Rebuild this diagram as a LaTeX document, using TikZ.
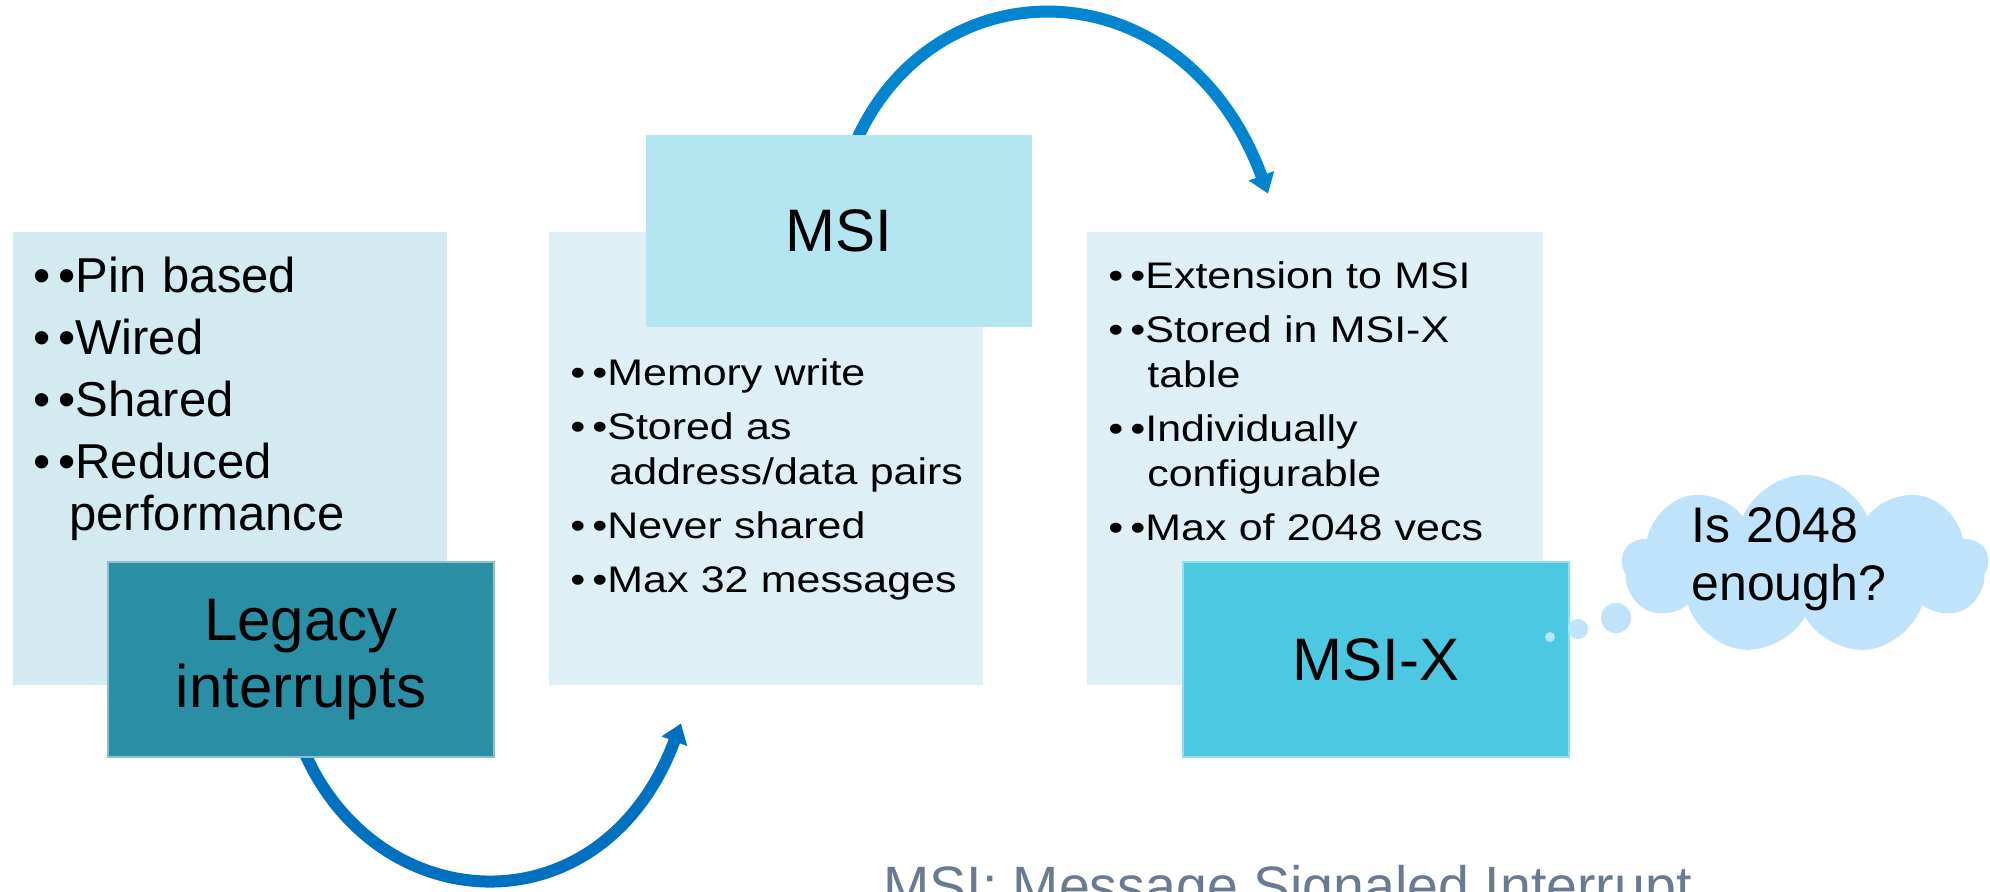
\documentclass[tikz,border=0pt]{standalone}
\usepackage{fontspec}
\setmainfont{Liberation Sans}
\newfontfamily\widesans[FakeStretch=1.16]{Liberation Sans}
\usetikzlibrary{arrows.meta,calc,shapes.symbols,backgrounds}

\definecolor{paleA}{HTML}{D3EBF0}
\definecolor{paleB}{HTML}{DEEFF5}
\definecolor{legacyteal}{HTML}{2A8FA5}
\definecolor{msiblue}{HTML}{B4E6F1}
\definecolor{msixcyan}{HTML}{4CC8E2}
\definecolor{cloudblue}{HTML}{BEE3FA}
\definecolor{arrowlow}{HTML}{0070C0}
\definecolor{arrowhigh}{HTML}{0284CF}
\definecolor{captiongray}{HTML}{6A7A90}

% one list entry: #1 distance between the two bullets, #2 hanging indent,
% #3 space before the next entry, #4 text
\newcommand\bulitem[4]{\hangindent=#2\hangafter=1\parskip=#3\relax
  \makebox[#1][l]{•}•#4\par}
\newcommand\bigitem[1]{\bulitem{12.5pt}{18pt}{5pt}{#1}}
\newcommand\smallitem[1]{\bulitem{11pt}{19.5pt}{4.5pt}{#1}}

\tikzset{
  panel/.style={rectangle, inner sep=0pt, draw=none},
  tag/.style={rectangle, inner sep=0pt, minimum width=193pt, minimum height=97.5pt,
    align=center, font=\fontsize{30pt}{33.5pt}\selectfont},
  biglist/.style={anchor=base west, inner sep=0pt, text width=240pt,
    font=\fontsize{24.5pt}{26pt}\selectfont},
  smalllist/.style={anchor=base west, inner sep=0pt, text width=260pt,
    font=\widesans\fontsize{18.5pt}{22.5pt}\selectfont},
  flow/.style={line width=6pt, -{Triangle[width=13pt,length=9.5pt]}},
  puff/.style={circle, fill=cloudblue, inner sep=0pt, draw=none},
}

\begin{document}
\begin{tikzpicture}[x=0.5pt, y=-0.5pt]
\useasboundingbox (0,0) rectangle (1990,891);
\clip (0,0) rectangle (1990,891);

% light panels holding the bullet lists
\node[panel, fill=paleA, minimum width=217pt, minimum height=226.5pt] (leftbg) at (230,458.5) {};
\node[panel, fill=paleB, minimum width=217pt, minimum height=226.5pt] (midbg) at (766,458.5) {};
\node[panel, fill=paleB, minimum width=228pt, minimum height=226.5pt] (rightbg) at (1315,458.5) {};

% bullet lists
\node[biglist] (leftlist) at (33,292) {\bigitem{Pin based}%
  \bigitem{Wired}%
  \bigitem{Shared}%
  \bigitem{Reduced\newline performance}};
\node[smalllist] (midlist) at (570,385) {\smallitem{Memory write}%
  \smallitem{Stored as\newline address/data pairs}%
  \smallitem{Never shared}%
  \smallitem{Max 32 messages}};
\node[smalllist] (rightlist) at (1108,288) {\smallitem{Extension to MSI}%
  \smallitem{Stored in MSI-X\newline table}%
  \smallitem{Individually\newline configurable}%
  \smallitem{Max of 2048 vecs}};

% title boxes
\node[tag, fill=legacyteal, draw=legacyteal!55!white, line width=0.6pt] (legacy) at (301,659.5) {Legacy\\interrupts};
\node[tag, fill=msiblue, minimum height=96pt] (msi) at (839,231) {MSI};
\node[tag, fill=msixcyan, draw=msixcyan!60!white, line width=0.6pt] (msix) at (1376,659.5) {MSI-X};

% thought cloud
\node[cloud, cloud puffs=9, cloud puff arc=135, cloud ignores aspect, fill=cloudblue,
  inner sep=0pt, minimum width=183pt, minimum height=90pt] (cloud) at (1805,565) {};
\node[puff, minimum size=5pt] (p1) at (1550,637) {};
\node[puff, minimum size=10pt] (p2) at (1578,629) {};
\node[puff, minimum size=15pt] (p3) at (1616,618) {};
\node[anchor=base west, inner sep=0pt, text width=150pt,
  font=\fontsize{25pt}{29pt}\selectfont] (question) at (1691,542) {Is 2048\newline enough?};

% footnote
\node[anchor=base west, inner sep=0pt, text=captiongray,
  font=\fontsize{27.75pt}{33pt}\selectfont] (caption) at (883,905) {MSI: Message Signaled Interrupt};

% curved arrows behind the boxes
\begin{scope}[on background layer]
\draw[flow, arrowlow] ($(legacy.south)+(-5,-27)$)
  .. controls (360,920) and (600,940) .. ($(midbg.south)+(-85,38)$);
\draw[flow, arrowhigh] ($(msi.north)+(8,30)$)
  .. controls (915,-38) and (1180,-45) .. ($(rightbg.north)+(-47,-38)$);
\end{scope}
\end{tikzpicture}
\end{document}
